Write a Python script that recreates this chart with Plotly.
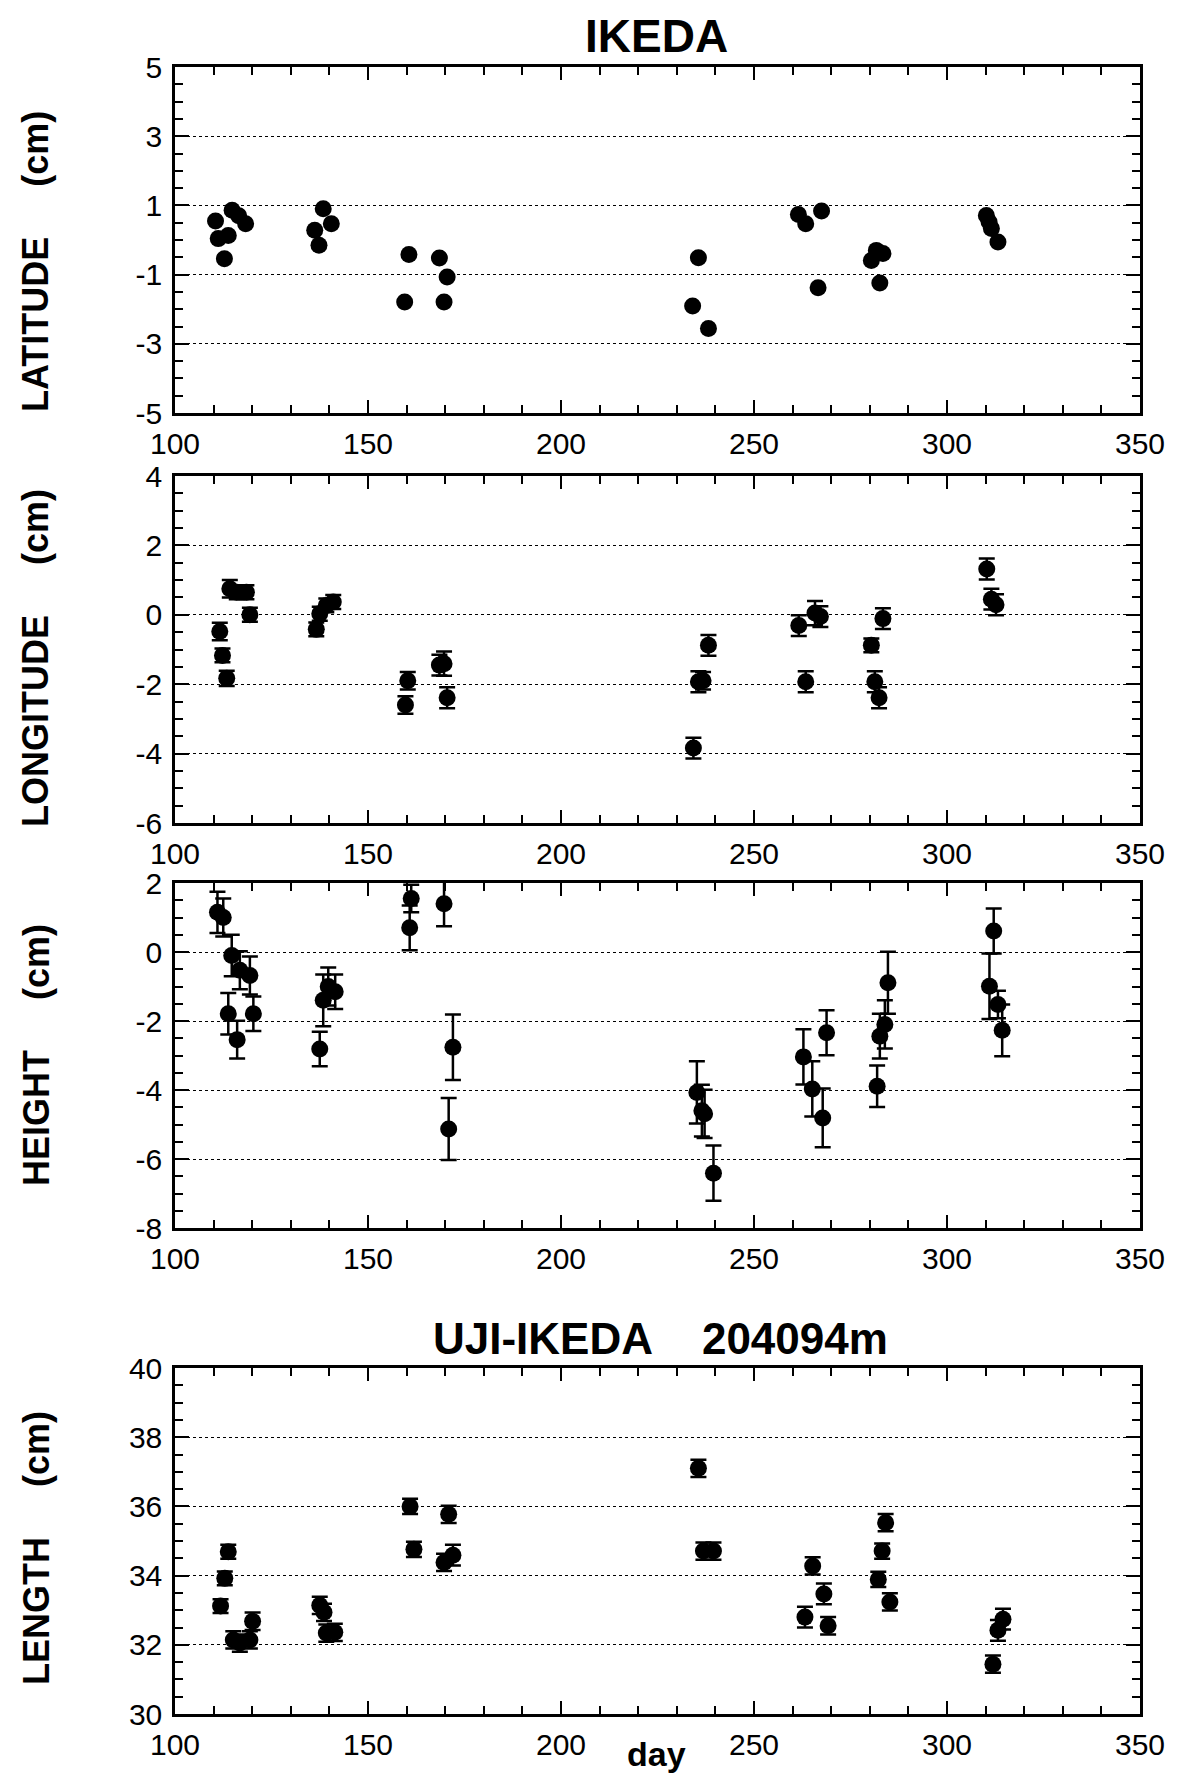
import plotly.graph_objects as go

# ---------------- data ----------------
lat_day = [110.5, 111.2, 112.8, 113.8, 114.8, 116.5, 118.3, 136.2, 137.3, 138.4, 140.5,
           159.5, 160.6, 168.5, 169.7, 170.5, 234.1, 235.6, 238.2, 261.5, 263.4, 266.6,
           267.5, 280.4, 281.7, 282.6, 283.4, 310.2, 310.9, 311.5, 313.2]
lat_val = [0.55, 0.04, -0.54, 0.13, 0.86, 0.70, 0.47, 0.28, -0.15, 0.90, 0.47,
           -1.79, -0.42, -0.52, -1.79, -1.07, -1.91, -0.51, -2.56, 0.74, 0.47, -1.38,
           0.84, -0.59, -0.30, -1.24, -0.39, 0.71, 0.52, 0.33, -0.06]

lon_day = [111.6, 112.3, 113.4, 114.2, 116.0, 118.5, 119.4, 136.6, 137.5, 139.2, 141.0,
           159.7, 160.3, 168.5, 169.7, 170.5, 234.3, 235.6, 236.8, 238.2, 261.6, 263.4,
           265.8, 267.2, 280.4, 281.3, 282.4, 283.4, 310.3, 311.5, 312.7]
lon_val = [-0.48, -1.17, -1.83, 0.75, 0.65, 0.65, 0.00, -0.42, 0.03, 0.27, 0.37,
           -2.60, -1.90, -1.45, -1.41, -2.39, -3.84, -1.93, -1.90, -0.88, -0.31, -1.93,
           0.05, -0.05, -0.88, -1.93, -2.39, -0.11, 1.32, 0.45, 0.29]
lon_err = [0.25, 0.20, 0.22, 0.25, 0.20, 0.20, 0.20, 0.20, 0.20, 0.20, 0.20,
           0.25, 0.25, 0.30, 0.35, 0.30, 0.30, 0.30, 0.25, 0.30, 0.30, 0.30,
           0.35, 0.30, 0.20, 0.30, 0.30, 0.30, 0.30, 0.30, 0.30]

hgt_day = [111.0, 112.5, 113.8, 114.7, 116.1, 116.8, 119.4, 120.3, 137.5, 138.4, 139.7,
           141.5, 160.8, 161.2, 169.7, 170.9, 172.0, 235.2, 236.5, 237.2, 239.5, 262.8,
           265.1, 267.8, 268.8, 281.9, 282.6, 283.9, 284.7, 311.0, 312.1, 313.2, 314.3]
hgt_val = [1.15, 1.00, -1.79, -0.10, -2.54, -0.53, -0.68, -1.79, -2.81, -1.40, -1.00,
           -1.15, 0.70, 1.55, 1.40, -5.13, -2.76, -4.07, -4.60, -4.69, -6.41, -3.04,
           -3.97, -4.81, -2.34, -3.89, -2.44, -2.10, -0.89, -0.99, 0.61, -1.52, -2.27]
hgt_err = [0.60, 0.55, 0.60, 0.60, 0.55, 0.55, 0.55, 0.50, 0.50, 0.75, 0.55,
           0.50, 0.65, 0.40, 0.65, 0.90, 0.95, 0.90, 0.75, 0.70, 0.80, 0.80,
           0.80, 0.85, 0.65, 0.60, 0.65, 0.70, 0.90, 0.95, 0.65, 0.40, 0.75]

len_day = [111.8, 112.9, 113.8, 115.1, 116.8, 119.4, 120.1, 137.5, 138.6, 139.2, 141.4,
           160.9, 161.9, 169.7, 170.9, 172.0, 235.6, 236.9, 239.5, 263.2, 265.2, 268.1,
           269.2, 282.2, 283.2, 284.1, 285.2, 311.9, 313.2, 314.5]
len_val = [33.12, 33.92, 34.69, 32.14, 32.05, 32.14, 32.68, 33.14, 32.94, 32.34, 32.36,
           36.00, 34.76, 34.38, 35.77, 34.59, 37.10, 34.71, 34.71, 32.80, 34.28, 33.47,
           32.55, 33.89, 34.71, 35.53, 33.24, 31.44, 32.42, 32.74]
len_err = [0.20, 0.20, 0.20, 0.25, 0.25, 0.25, 0.25, 0.25, 0.25, 0.25, 0.25,
           0.22, 0.22, 0.25, 0.25, 0.30, 0.25, 0.25, 0.25, 0.30, 0.25, 0.30,
           0.25, 0.22, 0.22, 0.25, 0.25, 0.25, 0.30, 0.30]

x_ticks = [100, 150, 200, 250, 300, 350]
lat_ticks = [-5, -3, -1, 1, 3, 5]
lon_ticks = [-6, -4, -2, 0, 2, 4]
hgt_ticks = [-8, -6, -4, -2, 0, 2]
len_ticks = [30, 32, 34, 36, 38, 40]

titles = ["LATITUDE", "LONGITUDE", "HEIGHT", "LENGTH"]
top_title = "IKEDA"
bottom_title = "UJI-IKEDA    204094m"
x_title = "day"

# ---------------- layout geometry (pixels on the page) ----------------
W, H = 1184, 1778
OFF = 8  # the page body adds an 8px offset
X0, X1 = 175, 1140
panels_px = [(67, 413), (476, 823), (883, 1228), (1368, 1714)]
title_centers = [262, 658, 1055, 1548]


def px(p):
    return (p - OFF) / W


def py(p):
    return 1 - (p - OFF) / H


TICKFONT = dict(family="Liberation Sans, Arial, sans-serif", size=30, color="black")
BOLD = "Liberation Sans, Arial, sans-serif"

fig = go.Figure()

series = [
    (lat_day, lat_val, None, lat_ticks),
    (lon_day, lon_val, lon_err, lon_ticks),
    (hgt_day, hgt_val, hgt_err, hgt_ticks),
    (len_day, len_val, len_err, len_ticks),
]

for i, (xd, yd, err, ticks) in enumerate(series):
    n = "" if i == 0 else str(i + 1)
    tr = dict(
        x=xd, y=yd, mode="markers", xaxis="x" + n, yaxis="y" + n,
        marker=dict(color="black", size=17, symbol="circle"),
        showlegend=False, hoverinfo="x+y",
    )
    if err is not None:
        tr["error_y"] = dict(type="data", array=err, color="black", thickness=2.5, width=8)
    fig.add_trace(go.Scatter(**tr))

    top, bot = panels_px[i]
    xa = dict(
        domain=[px(X0), px(X1)], range=[100, 350], anchor="y" + n,
        tickmode="array", tickvals=x_ticks, ticktext=[str(v) for v in x_ticks],
        ticks="inside", ticklen=13, tickwidth=2, tickcolor="black",
        minor=dict(tickmode="linear", tick0=100, dtick=10, ticks="inside",
                   ticklen=8, tickwidth=2, tickcolor="black", showgrid=False),
        showline=True, linecolor="black", linewidth=2.5, mirror="ticks",
        showgrid=False, zeroline=False, tickfont=TICKFONT, ticklabelstandoff=2,
        automargin=False,
    )
    ya = dict(
        domain=[py(bot), py(top)], range=[ticks[0], ticks[-1]], anchor="x" + n,
        tickmode="array", tickvals=ticks, ticktext=[str(v) for v in ticks],
        ticks="inside", ticklen=14, tickwidth=2, tickcolor="black",
        minor=dict(tickmode="linear", tick0=ticks[0], dtick=0.5, ticks="inside",
                   ticklen=8, tickwidth=2, tickcolor="black", showgrid=False),
        showline=True, linecolor="black", linewidth=2.5, mirror="ticks",
        showgrid=True, gridcolor="black", griddash="dot", gridwidth=1,
        zeroline=False, tickfont=TICKFONT, ticklabelstandoff=4,
        automargin=False,
    )
    fig.update_layout(**{"xaxis" + n: xa, "yaxis" + n: ya})

annotations = []
for i, t in enumerate(titles):
    annotations.append(dict(
        text="<b>" + t + "&nbsp;&nbsp;&nbsp;&nbsp;&nbsp;(cm)</b>", textangle=-90,
        x=px(36), y=py(title_centers[i]), xref="paper", yref="paper",
        xanchor="center", yanchor="middle", showarrow=False,
        font=dict(family=BOLD, size=36, color="black"),
    ))
annotations.append(dict(text="<b>" + top_title + "</b>", x=px(656), y=py(36),
                        xref="paper", yref="paper", showarrow=False,
                        xanchor="center", yanchor="middle",
                        font=dict(family=BOLD, size=46, color="black")))
annotations.append(dict(text="<b>" + bottom_title.replace(" ", "&nbsp;") + "</b>",
                        x=px(660), y=py(1338),
                        xref="paper", yref="paper", showarrow=False,
                        xanchor="center", yanchor="middle",
                        font=dict(family=BOLD, size=44, color="black")))
annotations.append(dict(text="<b>" + x_title + "</b>", x=px(656), y=py(1754),
                        xref="paper", yref="paper", showarrow=False,
                        xanchor="center", yanchor="middle",
                        font=dict(family=BOLD, size=34, color="black")))

fig.update_layout(
    width=W, height=H, autosize=False,
    margin=dict(l=0, r=0, t=0, b=0, autoexpand=False),
    paper_bgcolor="white", plot_bgcolor="white",
    annotations=annotations,
)

fig.write_html("out.html")
